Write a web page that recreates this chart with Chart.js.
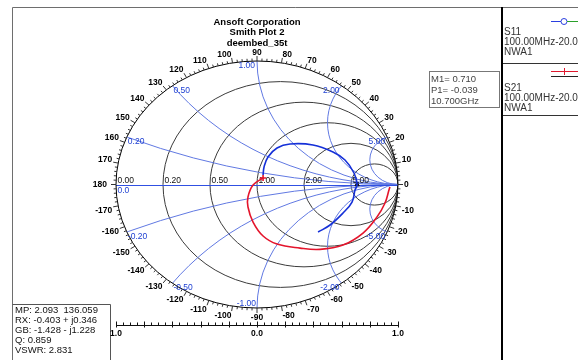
<!DOCTYPE html>
<html>
<head>
<meta charset="utf-8">
<script src="https://cdn.jsdelivr.net/npm/chart.js@4/dist/chart.umd.min.js"></script>
<style>
  html, body { margin: 0; padding: 0; background: #fff; overflow: hidden; }
  canvas { display: block; }
</style>
</head>
<body>
<canvas id="smith" width="578" height="360"></canvas>
<script>
// ---- Plot text ----
const TITLE_LINES = ['Ansoft Corporation', 'Smith Plot 2', 'deembed_35t'];

// ---- Traces: reflection coefficient, real and imaginary parts ----
const S11_RE = [0.043, 0.050, 0.078, 0.142, 0.234, 0.397, 0.539, 0.624, 0.688, 0.710, 0.695, 0.674, 0.610, 0.518, 0.433];
const S11_IM = [0.077, 0.142, 0.223, 0.296, 0.328, 0.320, 0.263, 0.198, 0.093, -0.0005, -0.045, -0.142, -0.231, -0.328, -0.385];

const S21_RE = [0.043, -0.028, -0.064, -0.064, -0.028, 0.043, 0.142, 0.305, 0.447, 0.610, 0.752, 0.851, 0.908, 0.936, 0.943];
const S21_IM = [0.053, -0.004, -0.101, -0.182, -0.304, -0.417, -0.482, -0.515, -0.525, -0.490, -0.393, -0.263, -0.150, -0.045, -0.020];

// ---- Marker M1 on S11 ----
const M1_MAG = 0.710;
const M1_PHASE = -0.039;
const M1_TEXT = ['M1= 0.710', 'P1= -0.039', '10.700GHz'];

// ---- Marker readout ----
const READOUT = ['MP: 2.093  136.059', 'RX: -0.403 + j0.346', 'GB: -1.428 - j1.228', 'Q: 0.859', 'VSWR: 2.831'];

// ---- Grid ----
const R_VALUES = [0, 0.2, 0.5, 1, 2, 5];
const R_LABELS = ['0.00', '0.20', '0.50', '1.00', '2.00', '5.00'];
const X_VALUES = [0.2, 0.5, 1, 2, 5];
const X_POS_LABELS = ['0.20', '0.50', '1.00', '2.00', '5.00'];
const X_NEG_LABELS = ['-0.20', '-0.50', '-1.00', '-2.00', '-5.00'];
const ANGLE_LABELS = [-170, -160, -150, -140, -130, -120, -110, -100, -90, -80, -70, -60, -50, -40, -30, -20, -10,
                      0, 10, 20, 30, 40, 50, 60, 70, 80, 90, 100, 110, 120, 130, 140, 150, 160, 170, 180];
const MAG_SCALE_LABELS = ['1.0', '0.0', '1.0'];

// ---- Legend ----
const LEGEND_ITEMS = [
  { name: 'S11', sweep: '100.00MHz-20.00GHz', source: 'NWA1' },
  { name: 'S21', sweep: '100.00MHz-20.00GHz', source: 'NWA1' }
];

const FONT = '"Liberation Sans", Arial, sans-serif';
const GRID_DARK = '#3c3c3c';
const GRID_BLUE = '#6179e2';
const LABEL_BLUE = '#1d3fd2';

function ellipsePath(ctx, cx, cy, rx, ry) {
  ctx.beginPath();
  ctx.ellipse(cx, cy, rx, ry, 0, 0, Math.PI * 2);
}

const smithPlugin = {
  id: 'smithPlugin',
  beforeDraw(chart) {
    const ctx = chart.ctx;
    ctx.save();
    ctx.fillStyle = '#ffffff';
    ctx.fillRect(0, 0, chart.width, chart.height);

    // outer frame
    ctx.strokeStyle = '#6e6e6e';
    ctx.lineWidth = 1;
    ctx.beginPath();
    ctx.moveTo(12.5, 360); ctx.lineTo(12.5, 7.5); ctx.lineTo(578, 7.5);
    ctx.stroke();

    // legend panel
    ctx.strokeStyle = '#000';
    ctx.lineWidth = 2;
    ctx.beginPath(); ctx.moveTo(502, 7); ctx.lineTo(502, 360); ctx.stroke();
    ctx.lineWidth = 1;
    ctx.strokeStyle = '#333';
    [63.5, 115.5].forEach(y => { ctx.beginPath(); ctx.moveTo(503, y); ctx.lineTo(578, y); ctx.stroke(); });

    // legend entries
    ctx.font = '10px ' + FONT;
    ctx.fillStyle = '#333';
    ctx.textAlign = 'left';
    ctx.textBaseline = 'middle';
    LEGEND_ITEMS.forEach((it, i) => {
      const y0 = i === 0 ? 32 : 88;
      ctx.fillText(it.name, 504, y0);
      ctx.fillText(it.sweep, 504, y0 + 10);
      ctx.fillText(it.source, 504, y0 + 20);
    });
    // S11 symbol
    ctx.strokeStyle = '#2a3fe0'; ctx.lineWidth = 1;
    ctx.beginPath(); ctx.moveTo(551, 21.5); ctx.lineTo(561, 21.5); ctx.stroke();
    ctx.beginPath(); ctx.arc(564, 21.5, 3, 0, Math.PI * 2); ctx.stroke();
    ctx.strokeStyle = '#2aa02a';
    ctx.beginPath(); ctx.moveTo(567, 21.5); ctx.lineTo(578, 21.5); ctx.stroke();
    // S21 symbol
    ctx.strokeStyle = '#e0182e';
    ctx.beginPath(); ctx.moveTo(551, 71.5); ctx.lineTo(578, 71.5); ctx.stroke();
    ctx.beginPath(); ctx.moveTo(564.5, 68); ctx.lineTo(564.5, 75); ctx.stroke();
    ctx.strokeStyle = '#222';
    ctx.beginPath(); ctx.moveTo(551, 76.5); ctx.lineTo(578, 76.5); ctx.stroke();

    // title
    ctx.fillStyle = '#000';
    ctx.font = 'bold 9.5px ' + FONT;
    ctx.textAlign = 'center';
    TITLE_LINES.forEach((t, i) => ctx.fillText(t, 257, 22 + i * 10.5));

    // marker box
    ctx.strokeStyle = '#777';
    ctx.strokeRect(429.5, 71.5, 70, 36);
    ctx.font = '9.5px ' + FONT;
    ctx.fillStyle = '#444';
    ctx.textAlign = 'left';
    M1_TEXT.forEach((t, i) => ctx.fillText(t, 431, 79.5 + i * 10.8));

    // readout box
    ctx.strokeStyle = '#555';
    ctx.beginPath(); ctx.moveTo(12.5, 304.5); ctx.lineTo(110.5, 304.5); ctx.lineTo(110.5, 360); ctx.stroke();
    ctx.fillStyle = '#111';
    READOUT.forEach((t, i) => ctx.fillText(t, 15, 310.5 + i * 10));
    ctx.restore();
  },
  beforeDatasetsDraw(chart) {
    const ctx = chart.ctx;
    const xs = chart.scales.x, ys = chart.scales.y;
    const X = v => xs.getPixelForValue(v);
    const Y = v => ys.getPixelForValue(v);
    const cx = X(0), cy = Y(0), rx = X(1) - cx, ry = cy - Y(1);

    ctx.save();
    // clipped grid inside the unit circle
    ellipsePath(ctx, cx, cy, rx, ry);
    ctx.clip();
    ctx.lineWidth = 1;
    ctx.strokeStyle = GRID_DARK;
    R_VALUES.forEach(r => {
      if (r === 0) return;
      const c = r / (1 + r), rad = 1 / (1 + r);
      ellipsePath(ctx, X(c), cy, rad * rx, rad * ry);
      ctx.stroke();
    });
    ctx.strokeStyle = GRID_BLUE;
    X_VALUES.forEach(x => {
      [1, -1].forEach(s => {
        ellipsePath(ctx, X(1), Y(s / x), rx / x, ry / x);
        ctx.stroke();
      });
    });
    ctx.restore();

    ctx.save();
    // real axis
    ctx.strokeStyle = '#3050e2';
    ctx.beginPath(); ctx.moveTo(X(-1), Math.round(cy) + 0.5); ctx.lineTo(X(1), Math.round(cy) + 0.5); ctx.stroke();
    // boundary circle
    ctx.strokeStyle = '#000';
    ellipsePath(ctx, cx, cy, rx, ry);
    ctx.stroke();

    // angle ticks
    ctx.strokeStyle = '#333';
    for (let d = 0; d < 360; d += 2) {
      const a = d * Math.PI / 180;
      const c = Math.cos(a), s = Math.sin(a);
      const px = cx + rx * c, py = cy - ry * s;
      const len = d % 10 === 0 ? 5 : 2.5;
      ctx.beginPath(); ctx.moveTo(px, py); ctx.lineTo(px + len * c, py - len * s); ctx.stroke();
    }

    // angle labels
    ctx.fillStyle = '#000';
    ctx.font = 'bold 8.5px ' + FONT;
    ANGLE_LABELS.forEach(d => {
      const a = d * Math.PI / 180;
      const c = Math.cos(a), s = Math.sin(a);
      const px = cx + (rx + 6) * c, py = cy - (ry + 6) * s;
      let align, base;
      if (d === 0) { align = 'left'; base = 'middle'; }
      else if (d === 180) { align = 'right'; base = 'middle'; }
      else if (d === 90) { align = 'center'; base = 'alphabetic'; }
      else if (d === -90) { align = 'center'; base = 'top'; }
      else {
        align = c > 0 ? 'left' : 'right';
        base = s > 0 ? 'alphabetic' : 'top';
      }
      ctx.textAlign = align;
      ctx.textBaseline = base;
      ctx.fillText(String(d), d === 180 ? px - 3 : px, base === 'top' ? py - 1 : py);
    });

    // resistance labels
    ctx.font = '8.5px ' + FONT;
    ctx.fillStyle = '#111';
    ctx.textAlign = 'left';
    ctx.textBaseline = 'alphabetic';
    R_VALUES.forEach((r, i) => {
      const g = (r - 1) / (r + 1);
      ctx.fillText(R_LABELS[i], X(g) + 1.5, cy - 1.5);
    });
    ctx.fillStyle = LABEL_BLUE;
    ctx.textBaseline = 'top';
    ctx.fillText('0.0', X(-1) + 1.5, cy + 2);

    // reactance labels
    X_VALUES.forEach((x, i) => {
      [1, -1].forEach(sg => {
        const th = sg * (Math.PI - 2 * Math.atan(x));
        const px = X(Math.cos(th)), py = Y(Math.sin(th));
        const left = Math.cos(th) < -0.01;
        ctx.textAlign = left ? 'left' : 'right';
        const txt = sg > 0 ? X_POS_LABELS[i] : X_NEG_LABELS[i];
        if (sg < 0 && x === 1) {
          ctx.textBaseline = 'alphabetic';
          ctx.fillText(txt, px - 1, py - 2);
        } else {
          ctx.textBaseline = 'top';
          ctx.fillText(txt, left ? px + 1 : px - 2, py + 0.5);
        }
      });
    });

    // magnitude scale below the chart
    const yb = Math.round(Y(-1)) + 17.5;
    ctx.strokeStyle = '#111';
    ctx.beginPath(); ctx.moveTo(X(-1), yb); ctx.lineTo(X(1), yb); ctx.stroke();
    for (let k = -20; k <= 20; k++) {
      const px = Math.round(X(k / 20)) + 0.5;
      const major = k % 4 === 0 || Math.abs(k) === 20;
      ctx.beginPath();
      ctx.moveTo(px, yb - (major ? 4 : 3));
      ctx.lineTo(px, yb + (major ? 2 : 0));
      ctx.stroke();
    }
    ctx.fillStyle = '#000';
    ctx.font = 'bold 8.5px ' + FONT;
    ctx.textAlign = 'center';
    ctx.textBaseline = 'middle';
    [-1, 0, 1].forEach((v, i) => ctx.fillText(MAG_SCALE_LABELS[i], X(v), yb + 8));
    ctx.restore();
  }
};

const toPoints = (re, im) => re.map((v, i) => ({ x: v, y: im[i] }));
const m1Rad = M1_PHASE * Math.PI / 180;

new Chart(document.getElementById('smith'), {
  type: 'scatter',
  data: {
    datasets: [
      {
        label: 'S11',
        data: toPoints(S11_RE, S11_IM),
        showLine: true,
        borderColor: '#1530d8',
        borderWidth: 1.6,
        pointRadius: 0,
        tension: 0.4,
        clip: false
      },
      {
        label: 'S21',
        data: toPoints(S21_RE, S21_IM),
        showLine: true,
        borderColor: '#e4152c',
        borderWidth: 1.6,
        pointRadius: c => (c.dataIndex === 0 ? 3 : 0),
        pointStyle: 'cross',
        pointBorderColor: '#e4152c',
        tension: 0.4,
        clip: false
      },
      {
        label: 'M1',
        data: [{ x: M1_MAG * Math.cos(m1Rad), y: M1_MAG * Math.sin(m1Rad) }],
        showLine: false,
        pointStyle: 'triangle',
        pointRadius: 2.5,
        backgroundColor: '#101010',
        borderColor: '#101010',
        borderWidth: 1,
        clip: false
      }
    ]
  },
  options: {
    responsive: false,
    animation: false,
    devicePixelRatio: 1,
    layout: { padding: { left: 116, right: 180, top: 61, bottom: 52 } },
    scales: {
      x: { type: 'linear', min: -1, max: 1, display: false },
      y: { type: 'linear', min: -1, max: 1, display: false }
    },
    plugins: {
      legend: { display: false },
      tooltip: { enabled: false },
      title: { display: false }
    }
  },
  plugins: [smithPlugin]
});
</script>
</body>
</html>
